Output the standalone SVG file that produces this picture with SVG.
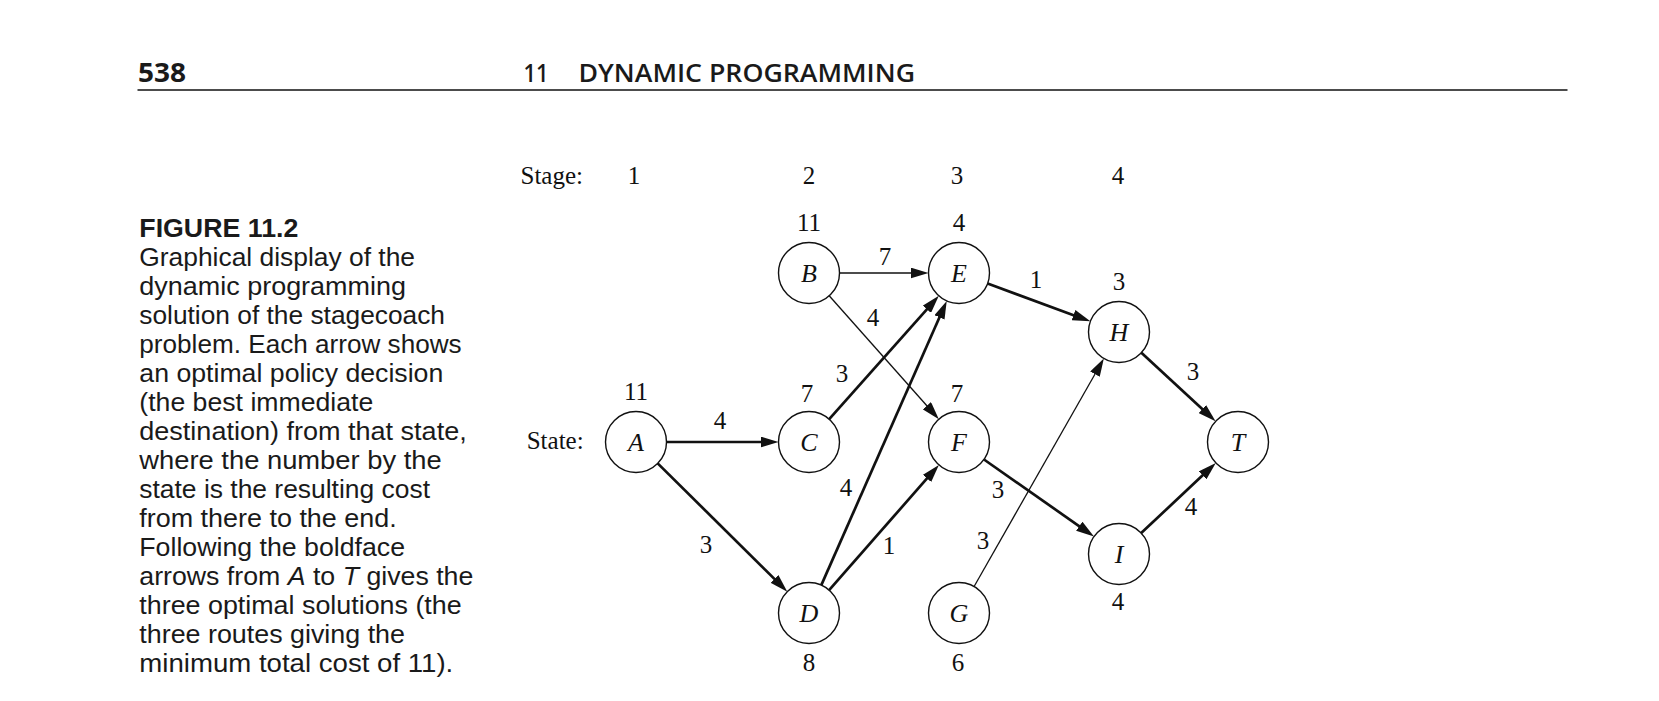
<svg xmlns="http://www.w3.org/2000/svg" width="1659" height="701" viewBox="0 0 1659 701">
<style>
.hdr{font-family:"Open Sans","Liberation Sans",sans-serif;font-weight:600;font-size:26px;fill:#1a1a1a}
.hdrb{font-family:"Open Sans","Liberation Sans",sans-serif;font-weight:700;font-size:26px;fill:#1a1a1a}
.figt{font-family:"Liberation Sans",Arial,sans-serif;font-weight:700;font-size:25px;fill:#1a1a1a}
.cap{font-family:"Liberation Sans",Arial,sans-serif;font-size:25px;fill:#1a1a1a}
.it{font-style:italic}
.g{font-family:"Liberation Serif","Times New Roman",serif;font-size:25px;fill:#111;text-anchor:middle}
.gl{font-family:"Liberation Serif","Times New Roman",serif;font-size:25px;fill:#111}
.nl{font-family:"Liberation Serif","Times New Roman",serif;font-size:26px;font-style:italic;fill:#111;text-anchor:middle}
.node circle{fill:#fff;stroke:#111;stroke-width:1.4}
.bold{stroke:#111;stroke-width:2.7;fill:none;marker-end:url(#ah)}
.thin{stroke:#111;stroke-width:1.3;fill:none;marker-end:url(#ah)}
</style>
<defs>
<marker id="ah" markerUnits="userSpaceOnUse" viewBox="0 0 18 11" markerWidth="18" markerHeight="11" refX="8" refY="5.5" orient="auto">
<path d="M0,0 L18,5.5 L0,11 z" fill="#111"/>
</marker>
</defs>
<rect width="1659" height="701" fill="#fff"/>
<g id="header">
<text class="hdrb" x="138" y="82" textLength="48" lengthAdjust="spacingAndGlyphs">538</text>
<text class="hdr" y="82"><tspan x="523.5" textLength="25" lengthAdjust="spacingAndGlyphs">11</tspan><tspan x="578.5" textLength="336.5" lengthAdjust="spacingAndGlyphs">DYNAMIC PROGRAMMING</tspan></text>
<line x1="137.5" y1="90" x2="1567.5" y2="90" stroke="#111" stroke-width="1.6"/>
</g>
<g id="caption">
<text class="figt" x="139.3" y="237" textLength="159" lengthAdjust="spacingAndGlyphs">FIGURE 11.2</text>
<text class="cap" x="139.3" y="266" textLength="275.7" lengthAdjust="spacingAndGlyphs">Graphical display of the</text>
<text class="cap" x="139.3" y="295" textLength="266.7" lengthAdjust="spacingAndGlyphs">dynamic programming</text>
<text class="cap" x="139.3" y="324" textLength="305.7" lengthAdjust="spacingAndGlyphs">solution of the stagecoach</text>
<text class="cap" x="139.3" y="353" textLength="322.4" lengthAdjust="spacingAndGlyphs">problem. Each arrow shows</text>
<text class="cap" x="139.3" y="382" textLength="304" lengthAdjust="spacingAndGlyphs">an optimal policy decision</text>
<text class="cap" x="139.3" y="411" textLength="234" lengthAdjust="spacingAndGlyphs">(the best immediate</text>
<text class="cap" x="139.3" y="440" textLength="327.4" lengthAdjust="spacingAndGlyphs">destination) from that state,</text>
<text class="cap" x="139.3" y="469" textLength="302.4" lengthAdjust="spacingAndGlyphs">where the number by the</text>
<text class="cap" x="139.3" y="498" textLength="290.7" lengthAdjust="spacingAndGlyphs">state is the resulting cost</text>
<text class="cap" x="139.3" y="527" textLength="257.4" lengthAdjust="spacingAndGlyphs">from there to the end.</text>
<text class="cap" x="139.3" y="556" textLength="265.7" lengthAdjust="spacingAndGlyphs">Following the boldface</text>
<text class="cap" x="139.3" y="585" textLength="334" lengthAdjust="spacingAndGlyphs">arrows from <tspan class="it">A</tspan> to <tspan class="it">T</tspan> gives the</text>
<text class="cap" x="139.3" y="614" textLength="322.4" lengthAdjust="spacingAndGlyphs">three optimal solutions (the</text>
<text class="cap" x="139.3" y="643" textLength="265.7" lengthAdjust="spacingAndGlyphs">three routes giving the</text>
<text class="cap" x="139.3" y="672" textLength="314" lengthAdjust="spacingAndGlyphs">minimum total cost of 11).</text>
</g>
<g id="axis-labels">
<text class="gl" x="520.5" y="184">Stage:</text>
<text class="g" x="634" y="184">1</text>
<text class="g" x="809" y="184">2</text>
<text class="g" x="957" y="184">3</text>
<text class="g" x="1118" y="184">4</text>
<text class="gl" x="526.7" y="449">State:</text>
</g>
<g id="connectors">
<line class="bold" x1="666.5" y1="442" x2="768.5" y2="442"/>
<line class="bold" x1="657.7" y1="463.4" x2="780.2" y2="584.6"/>
<line class="thin" x1="839.5" y1="273" x2="918.5" y2="273"/>
<line class="thin" x1="829.2" y1="295.8" x2="932.2" y2="411.7"/>
<line class="bold" x1="829.2" y1="419.2" x2="932.2" y2="303.3"/>
<line class="bold" x1="821.3" y1="585.1" x2="942.7" y2="310.05"/>
<line class="bold" x1="829.1" y1="590.1" x2="932.3" y2="472.4"/>
<line class="bold" x1="987.6" y1="283.6" x2="1081" y2="317.9"/>
<line class="bold" x1="984" y1="459.5" x2="1085.8" y2="530.8"/>
<line class="thin" x1="974.1" y1="586.5" x2="1098.9" y2="367.2"/>
<line class="bold" x1="1141.4" y1="352.7" x2="1208.2" y2="414.5"/>
<line class="bold" x1="1141.2" y1="533.1" x2="1208.5" y2="469.8"/>
<text class="g" x="720" y="429">4</text>
<text class="g" x="706" y="553">3</text>
<text class="g" x="885" y="265">7</text>
<text class="g" x="873" y="326">4</text>
<text class="g" x="842" y="382">3</text>
<text class="g" x="846" y="496">4</text>
<text class="g" x="889" y="554">1</text>
<text class="g" x="998" y="498">3</text>
<text class="g" x="983" y="549">3</text>
<text class="g" x="1036" y="288">1</text>
<text class="g" x="1193" y="380">3</text>
<text class="g" x="1191" y="515">4</text>
</g>
<g id="node-A" class="node"><circle cx="636" cy="442" r="30.5"/><text class="nl" x="636" y="451">A</text><text class="g" x="636" y="400">11</text></g>
<g id="node-B" class="node"><circle cx="809" cy="273" r="30.5"/><text class="nl" x="809" y="282">B</text><text class="g" x="809" y="231">11</text></g>
<g id="node-C" class="node"><circle cx="809" cy="442" r="30.5"/><text class="nl" x="809" y="451">C</text><text class="g" x="807" y="402">7</text></g>
<g id="node-D" class="node"><circle cx="809" cy="613" r="30.5"/><text class="nl" x="809" y="622">D</text><text class="g" x="809" y="671">8</text></g>
<g id="node-E" class="node"><circle cx="959" cy="273" r="30.5"/><text class="nl" x="959" y="282">E</text><text class="g" x="959" y="231">4</text></g>
<g id="node-F" class="node"><circle cx="959" cy="442" r="30.5"/><text class="nl" x="959" y="451">F</text><text class="g" x="957" y="402">7</text></g>
<g id="node-G" class="node"><circle cx="959" cy="613" r="30.5"/><text class="nl" x="959" y="622">G</text><text class="g" x="958" y="671">6</text></g>
<g id="node-H" class="node"><circle cx="1119" cy="332" r="30.5"/><text class="nl" x="1119" y="341">H</text><text class="g" x="1119" y="290">3</text></g>
<g id="node-I" class="node"><circle cx="1119" cy="554" r="30.5"/><text class="nl" x="1119" y="563">I</text><text class="g" x="1118" y="610">4</text></g>
<g id="node-T" class="node"><circle cx="1238" cy="442" r="30.5"/><text class="nl" x="1238" y="451">T</text></g>
</svg>
